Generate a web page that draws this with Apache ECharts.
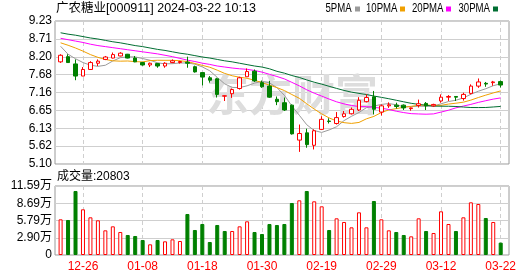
<!DOCTYPE html>
<html><head><meta charset="utf-8">
<script src="https://cdn.jsdelivr.net/npm/echarts@6/dist/echarts.min.js"></script>
<style>html,body{margin:0;padding:0;background:#fff}#c{width:530px;height:276px}</style>
</head><body><div id="c"></div>
<script>
const stockTitle = '广农糖业[000911] 2024-03-22 10:13';
const volumeTitle = '成交量:20803';
const dates = ['2023-12-21','2023-12-22','2023-12-25','2023-12-26','2023-12-27','2023-12-28','2023-12-29','2024-01-02','2024-01-03','2024-01-04','2024-01-05','2024-01-08','2024-01-09','2024-01-10','2024-01-11','2024-01-12','2024-01-15','2024-01-16','2024-01-17','2024-01-18','2024-01-19','2024-01-22','2024-01-23','2024-01-24','2024-01-25','2024-01-26','2024-01-29','2024-01-30','2024-01-31','2024-02-01','2024-02-02','2024-02-05','2024-02-06','2024-02-07','2024-02-08','2024-02-19','2024-02-20','2024-02-21','2024-02-22','2024-02-23','2024-02-26','2024-02-27','2024-02-28','2024-02-29','2024-03-01','2024-03-04','2024-03-05','2024-03-06','2024-03-07','2024-03-08','2024-03-11','2024-03-12','2024-03-13','2024-03-14','2024-03-15','2024-03-18','2024-03-19','2024-03-20','2024-03-21','2024-03-22'];
const opens  = [8.05,8.20,7.99,7.64,7.83,8.01,8.12,8.16,8.22,8.27,8.16,8.03,7.96,8.00,7.93,8.03,8.03,8.04,7.91,7.74,7.59,7.56,7.06,7.13,7.28,7.62,7.78,7.45,7.35,6.97,6.87,6.80,5.79,6.00,5.64,6.10,6.34,6.27,6.47,6.55,6.66,6.90,7.04,6.60,6.78,6.80,6.80,6.70,6.79,6.85,6.78,6.92,7.03,7.05,6.99,7.14,7.35,7.43,7.45,7.48];
const closes = [8.24,8.03,7.64,7.83,8.03,8.07,8.19,8.26,8.30,8.16,8.05,7.96,8.01,7.93,8.01,8.08,8.06,8.01,7.76,7.61,7.52,7.11,7.07,7.25,7.59,7.77,7.50,7.33,7.03,6.90,6.66,5.97,5.98,5.66,6.06,6.39,6.33,6.44,6.55,6.68,6.94,7.02,6.68,6.78,6.81,6.76,6.72,6.72,6.84,6.78,6.82,7.03,7.05,7.03,7.11,7.35,7.47,7.41,7.47,7.38];
const lows   = [8.02,8.02,7.52,7.64,7.83,7.93,8.10,8.15,8.21,8.15,8.04,7.94,7.90,7.88,7.88,8.01,8.00,7.88,7.74,7.37,7.45,7.02,6.92,7.01,7.25,7.62,7.47,7.30,7.01,6.80,6.63,5.95,5.45,5.57,5.52,6.08,6.27,6.24,6.44,6.53,6.63,6.88,6.53,6.50,6.72,6.70,6.66,6.64,6.73,6.66,6.75,6.87,6.92,6.92,6.93,7.11,7.30,7.33,7.36,7.31];
const highs  = [8.27,8.27,8.12,7.90,8.07,8.12,8.22,8.32,8.33,8.28,8.22,8.05,8.03,8.02,8.04,8.12,8.08,8.20,7.94,7.74,7.64,7.59,7.08,7.28,7.62,7.86,7.83,7.51,7.50,7.05,7.02,6.82,6.24,6.12,6.10,6.48,6.42,6.60,6.63,6.73,7.03,7.11,7.21,6.82,6.88,6.87,6.82,6.73,6.96,6.89,6.84,7.11,7.09,7.06,7.16,7.40,7.57,7.47,7.50,7.51];
const volumes = [59920,58800,107520,76720,63280,58240,41440,48160,38640,33600,31920,25200,17920,25200,22960,26320,23520,68880,42000,52080,21840,50400,40320,40320,48160,56560,38640,35280,52080,50400,52080,87360,91840,107520,90160,81760,42000,61600,55440,46480,71680,46480,90720,59920,41440,38640,33600,31360,61600,40320,36960,73360,52080,40320,63280,88480,85680,62160,55440,20803];
const volumeRise = [1,0,0,1,1,1,1,1,1,0,0,0,1,0,1,1,1,0,0,0,0,0,0,1,1,1,0,0,0,0,0,0,1,0,1,1,0,1,1,1,1,1,0,1,1,0,0,1,1,0,1,1,1,0,1,1,1,0,1,0];
const ma5  = [8.50,8.27,8.14,8.03,7.954,7.92,7.952,8.076,8.17,8.196,8.192,8.146,8.096,8.022,7.992,7.998,8.018,8.018,7.984,7.904,7.792,7.602,7.414,7.312,7.308,7.358,7.436,7.488,7.444,7.306,7.084,6.778,6.508,6.234,6.066,6.012,6.084,6.176,6.354,6.478,6.588,6.726,6.774,6.82,6.846,6.81,6.75,6.758,6.77,6.764,6.776,6.838,6.904,6.942,7.008,7.114,7.202,7.274,7.362,7.416];
const ma10 = [8.60,8.53,8.45,8.36,8.26,8.18,8.12,8.08,8.07,8.075,8.056,8.049,8.086,8.096,8.094,8.095,8.082,8.057,8.003,7.948,7.895,7.81,7.716,7.648,7.606,7.575,7.519,7.451,7.378,7.307,7.221,7.107,6.998,6.839,6.686,6.548,6.431,6.342,6.294,6.272,6.30,6.405,6.475,6.587,6.662,6.699,6.738,6.766,6.795,6.805,6.793,6.794,6.831,6.856,6.886,6.945,7.02,7.089,7.152,7.212];
const ma20 = [8.73,8.69,8.65,8.61,8.56,8.52,8.49,8.46,8.43,8.40,8.37,8.34,8.31,8.28,8.24,8.20,8.15,8.10,8.06,8.012,7.976,7.93,7.901,7.872,7.85,7.835,7.80,7.754,7.69,7.628,7.558,7.458,7.357,7.243,7.146,7.061,6.975,6.896,6.836,6.79,6.76,6.756,6.736,6.713,6.674,6.624,6.585,6.554,6.545,6.538,6.547,6.60,6.653,6.722,6.774,6.822,6.879,6.928,6.974,7.009];
const ma30 = [8.89,8.85,8.82,8.78,8.74,8.71,8.67,8.63,8.60,8.56,8.52,8.49,8.45,8.41,8.38,8.34,8.30,8.27,8.23,8.19,8.16,8.12,8.08,8.05,8.01,7.97,7.93,7.90,7.85,7.777,7.724,7.655,7.60,7.528,7.462,7.406,7.344,7.283,7.225,7.176,7.139,7.107,7.063,7.025,6.985,6.941,6.896,6.853,6.822,6.795,6.771,6.769,6.768,6.761,6.745,6.731,6.730,6.732,6.747,6.763];
const priceTicks = ['5.10','5.62','6.13','6.65','7.16','7.68','8.20','8.71','9.23'];
const volumeTicks = ['0','2.90万','5.79万','8.69万','11.59万'];
const volumeMax = 115900;
const dateTicks = ['2023-12-26','2024-01-08','2024-01-18','2024-01-30','2024-02-19','2024-02-29','2024-03-12','2024-03-22'];
const maNames = ['5PMA','10PMA','20PMA','30PMA'];

const FONT = "'Liberation Sans','Noto Sans CJK SC',sans-serif";
const UP = '#ff0000', DOWN = '#008000';
const maColors = ['#9a9a9a','#f0a000','#ff00ff','#006e32'];
const GRIDC = '#cfcfcf', FRAME = '#9a9a9a';

const chart = echarts.init(document.getElementById('c'), null, {renderer: 'canvas'});
const candleData = dates.map((d, i) => [opens[i], closes[i], lows[i], highs[i]]);
const volData = volumes.map((v, i) => ({
  value: v,
  itemStyle: volumeRise[i] ? {color: '#fff', borderColor: UP, borderWidth: 1} : {color: DOWN, borderColor: DOWN, borderWidth: 1}
}));
const isTick = (idx, val) => dateTicks.indexOf(val) >= 0;
const vSplit = {show: true, interval: isTick, lineStyle: {color: GRIDC, type: [4, 3], width: 1}};

// legend: text start positions, square follows each text
const legendStart = [325.5, 366, 412, 458.5];
const legendGraphics = [];
maNames.forEach((n, i) => {
  const sx = 0.8;
  const w = echarts.format.getTextRect ? echarts.format.getTextRect(n, '12px ' + FONT).width * sx : n.length * 6.4;
  legendGraphics.push({type: 'text', x: legendStart[i], y: 9, scaleX: sx, originX: 0, originY: 0,
    style: {text: n, font: '12px ' + FONT, fill: '#000', align: 'left', verticalAlign: 'middle'}});
  legendGraphics.push({type: 'rect', shape: {x: Math.round(legendStart[i] + w + 3), y: 6.5, width: 5, height: 5}, style: {fill: maColors[i]}});
});

const maSeries = [ma5, ma10, ma20, ma30].map((arr, i) => ({
  name: maNames[i], type: 'line', xAxisIndex: 1, yAxisIndex: 1, data: arr,
  showSymbol: false, symbol: 'none', smooth: false, z: 3,
  lineStyle: {color: maColors[i], width: 1}
}));

chart.setOption({
  animation: false,
  backgroundColor: '#fff',
  grid: [
    {left: 55, top: 21, width: 454, height: 143, show: true, borderColor: FRAME, borderWidth: 1},
    {left: 60.6, top: 21, width: 440.1, height: 143},
    {left: 55, top: 186, width: 454, height: 69, show: true, borderColor: FRAME, borderWidth: 1},
    {left: 60.6, top: 186, width: 440.1, height: 69}
  ],
  xAxis: [
    {gridIndex: 0, type: 'value', show: false, min: 0, max: 1},
    {gridIndex: 1, type: 'category', data: dates, boundaryGap: false, axisLine: {show: false}, axisTick: {show: false}, axisLabel: {show: false}, splitLine: vSplit},
    {gridIndex: 2, type: 'value', show: false, min: 0, max: 1},
    {gridIndex: 3, type: 'category', data: dates, boundaryGap: false, axisLine: {show: false}, axisTick: {show: false},
      axisLabel: {show: true, interval: isTick, formatter: v => v.slice(5), color: '#ff0000', fontSize: 12, fontFamily: FONT, margin: 6},
      splitLine: vSplit}
  ],
  yAxis: [
    {gridIndex: 0, type: 'value', min: 0, max: priceTicks.length - 1, interval: 1, axisLine: {show: false}, axisTick: {show: false},
      axisLabel: {formatter: v => priceTicks[Math.round(v)], color: '#000', fontSize: 12, fontFamily: FONT, margin: 3},
      splitLine: {show: true, lineStyle: {color: GRIDC, width: 1}}},
    {gridIndex: 1, type: 'value', min: parseFloat(priceTicks[0]), max: parseFloat(priceTicks[priceTicks.length - 1]), show: false, splitLine: {show: false}},
    {gridIndex: 2, type: 'value', min: 0, max: volumeTicks.length - 1, interval: 1, axisLine: {show: false}, axisTick: {show: false},
      axisLabel: {formatter: v => volumeTicks[Math.round(v)], color: '#000', fontSize: 12, fontFamily: FONT, margin: 3},
      splitLine: {show: true, lineStyle: {color: GRIDC, width: 1}}},
    {gridIndex: 3, type: 'value', min: 0, max: volumeMax, show: false, splitLine: {show: false}}
  ],
  graphic: [
    {type: 'text', x: 292, y: 95, z: 1, style: {text: '东方财富', font: 'bold 43px "Noto Sans CJK SC"', fill: '#dddddd', align: 'center', verticalAlign: 'middle'}},
    {type: 'text', x: 56, y: 9, style: {text: stockTitle, font: '12.5px ' + FONT, fill: '#000', verticalAlign: 'middle'}},
    {type: 'text', x: 57, y: 177, style: {text: volumeTitle, font: '12px ' + FONT, fill: '#000', verticalAlign: 'middle'}},
    ...legendGraphics
  ],
  series: [
    {type: 'candlestick', xAxisIndex: 1, yAxisIndex: 1, data: candleData, barWidth: 4, clip: false, z: 4,
      itemStyle: {color: '#fff', color0: DOWN, borderColor: UP, borderColor0: DOWN, borderWidth: 1}},
    ...maSeries,
    {type: 'bar', xAxisIndex: 3, yAxisIndex: 3, data: volData, barWidth: 4, clip: false}
  ]
});
</script>
</body></html>
